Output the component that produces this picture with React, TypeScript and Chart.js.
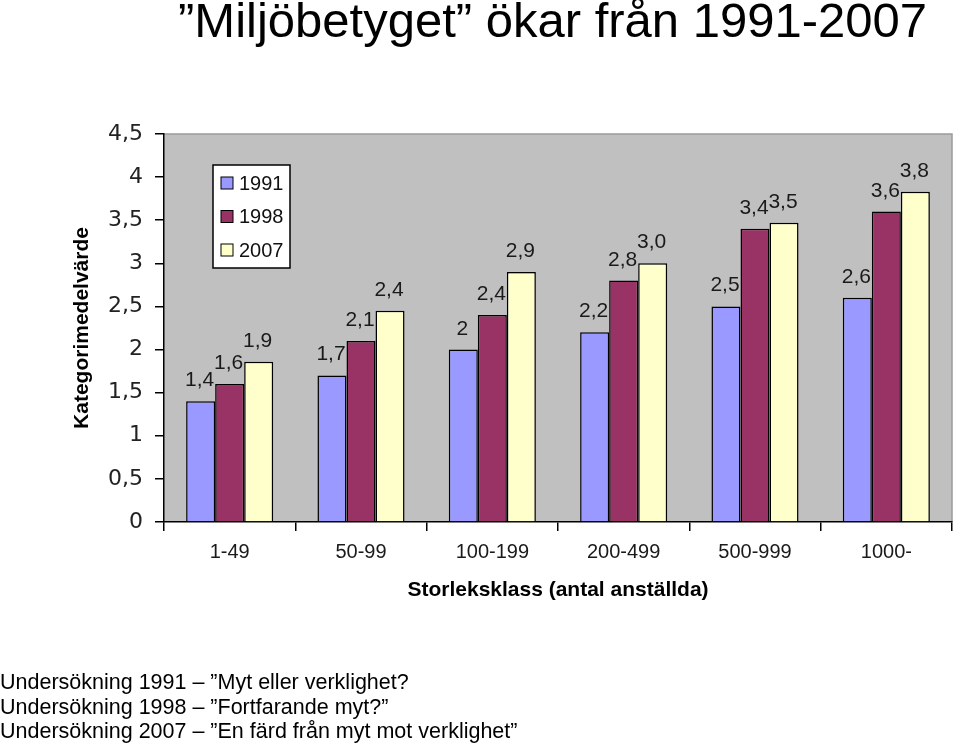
import React, { useEffect, useRef } from "react";
import { Chart, registerables } from "chart.js";

Chart.register(...registerables);

const titleText = "\u201DMiljöbetyget\u201D ökar från 1991-2007";
const footerLines = [
  "Undersökning 1991 \u2013 \u201DMyt eller verklighet?",
  "Undersökning 1998 \u2013 \u201DFortfarande myt?\u201D",
  "Undersökning 2007 \u2013 \u201DEn färd från myt mot verklighet\u201D",
];

const categories = ["1-49", "50-99", "100-199", "200-499", "500-999", "1000-"];
const seriesNames = ["1991", "1998", "2007"];
const values1991 = [1.4, 1.7, 2.0, 2.2, 2.5, 2.6];
const values1998 = [1.6, 2.1, 2.4, 2.8, 3.4, 3.6];
const values2007 = [1.86, 2.45, 2.9, 3.0, 3.47, 3.83];
const labels1991 = ["1,4", "1,7", "2", "2,2", "2,5", "2,6"];
const labels1998 = ["1,6", "2,1", "2,4", "2,8", "3,4", "3,6"];
const labels2007 = ["1,9", "2,4", "2,9", "3,0", "3,5", "3,8"];
const seriesColors = ["#9999FF", "#993366", "#FFFFCC"];
const yMin = 0;
const yMax = 4.5;
const yStep = 0.5;
const xTitle = "Storleksklass (antal anställda)";
const yTitle = "Kategorimedelvärde";

const allValueLabels = [labels1991, labels1998, labels2007];

const SANS = "'Liberation Sans', Arial, sans-serif";
const TICKFONT = "'DejaVu Sans', Verdana, sans-serif";

const plotBg = {
  id: "plotBg",
  beforeDraw(chart: any) {
    const { ctx, chartArea: a } = chart;
    ctx.save();
    ctx.fillStyle = "#C0C0C0";
    ctx.fillRect(a.left, a.top, a.right - a.left, a.bottom - a.top);
    ctx.strokeStyle = "#9A9A9A";
    ctx.lineWidth = 1.5;
    ctx.beginPath();
    ctx.moveTo(a.left, a.top);
    ctx.lineTo(a.right, a.top);
    ctx.lineTo(a.right, a.bottom);
    ctx.stroke();
    ctx.restore();
  },
};

const valueLabels = {
  id: "valueLabels",
  afterDatasetsDraw(chart: any) {
    const { ctx } = chart;
    ctx.save();
    ctx.font = `21px ${SANS}`;
    ctx.fillStyle = "#1a1a1a";
    ctx.textAlign = "center";
    ctx.textBaseline = "alphabetic";
    chart.data.datasets.forEach((ds: any, di: number) => {
      const meta = chart.getDatasetMeta(di);
      meta.data.forEach((el: any, i: number) => {
        ctx.fillText(allValueLabels[di][i], el.x - 1, el.y - 15);
      });
    });
    ctx.restore();
  },
};

const innerLegend = {
  id: "innerLegend",
  afterDraw(chart: any) {
    const { ctx, chartArea: a } = chart;
    const bx = a.left + 49;
    const by = a.top + 31;
    const bw = 77;
    const bh = 103;
    ctx.save();
    ctx.fillStyle = "#FFFFFF";
    ctx.fillRect(bx, by, bw, bh);
    ctx.strokeStyle = "#000";
    ctx.lineWidth = 1.5;
    ctx.strokeRect(bx, by, bw, bh);
    ctx.font = `20px ${SANS}`;
    ctx.textAlign = "left";
    ctx.textBaseline = "middle";
    chart.data.datasets.forEach((ds: any, i: number) => {
      const cy = by + 18 + i * 33.5;
      ctx.fillStyle = ds.backgroundColor;
      ctx.fillRect(bx + 8, cy - 6, 12, 12);
      ctx.strokeStyle = "#000";
      ctx.lineWidth = 1;
      ctx.strokeRect(bx + 8, cy - 6, 12, 12);
      ctx.fillStyle = "#111";
      ctx.fillText(ds.label, bx + 26, cy + 1);
    });
    ctx.restore();
  },
};

function BarChart() {
  const ref = useRef<HTMLCanvasElement | null>(null);
  useEffect(() => {
    if (!ref.current) return;
    const seriesValues = [values1991, values1998, values2007];
    const chart = new Chart(ref.current, {
      type: "bar",
      data: {
        labels: categories,
        datasets: seriesNames.map((name, i) => ({
          label: name,
          data: seriesValues[i],
          backgroundColor: seriesColors[i],
          borderColor: "#000",
          borderWidth: 1.5,
          barPercentage: 1,
          categoryPercentage: 0.663,
        })),
      },
      options: {
        animation: false,
        responsive: false,
        devicePixelRatio: 1,
        layout: { padding: { left: 0, top: 134, right: 8, bottom: 0 } },
        plugins: {
          legend: { display: false },
          tooltip: { enabled: false },
          title: { display: false },
        },
        scales: {
          x: {
            grid: { drawOnChartArea: false, tickLength: 9, color: "#000", lineWidth: 1.5, offset: true },
            border: { color: "#000", width: 1.5 },
            ticks: { font: { family: SANS, size: 20 }, color: "#1a1a1a", padding: 9 },
            title: {
              display: true,
              text: xTitle,
              font: { family: SANS, size: 21, weight: "bold" },
              color: "#000",
              padding: { top: 0, bottom: 140 },
            },
            afterFit: (s: any) => {
              s.height = 743 - 522;
            },
          },
          y: {
            min: yMin,
            max: yMax,
            ticks: {
              stepSize: yStep,
              font: { family: TICKFONT, size: 22 },
              color: "#222",
              padding: 12,
              callback: (v: any) => String(v).replace(".", ","),
            },
            grid: { drawOnChartArea: false, tickLength: 9, color: "#000", lineWidth: 1.5 },
            border: { color: "#000", width: 1.5 },
            title: {
              display: true,
              text: yTitle,
              font: { family: SANS, size: 21, weight: "bold" },
              color: "#000",
              padding: { top: 70, bottom: 0 },
            },
            afterFit: (s: any) => {
              s.width = 164;
            },
          },
        },
      },
      plugins: [plotBg, valueLabels, innerLegend],
    } as any);
    return () => chart.destroy();
  }, []);
  return (
    <canvas
      ref={ref}
      width={960}
      height={743}
      style={{ position: "absolute", left: 0, top: 0, width: 960, height: 743 }}
    />
  );
}

export default function App() {
  return (
    <div style={{ position: "absolute", left: 0, top: 0, width: 960, height: 743, background: "#fff", overflow: "hidden" }}>
      <BarChart />
      <div
        style={{
          position: "absolute",
          left: 178,
          top: -4.5,
          fontFamily: SANS,
          fontSize: 49,
          lineHeight: "49px",
          color: "#000",
          whiteSpace: "nowrap",
        }}
      >
        {titleText}
      </div>
      <div
        style={{
          position: "absolute",
          left: 0,
          top: 670,
          fontFamily: SANS,
          fontSize: 21.5,
          lineHeight: "24.5px",
          color: "#000",
          whiteSpace: "nowrap",
        }}
      >
        {footerLines.map((l, i) => (
          <div key={i}>{l}</div>
        ))}
      </div>
    </div>
  );
}
